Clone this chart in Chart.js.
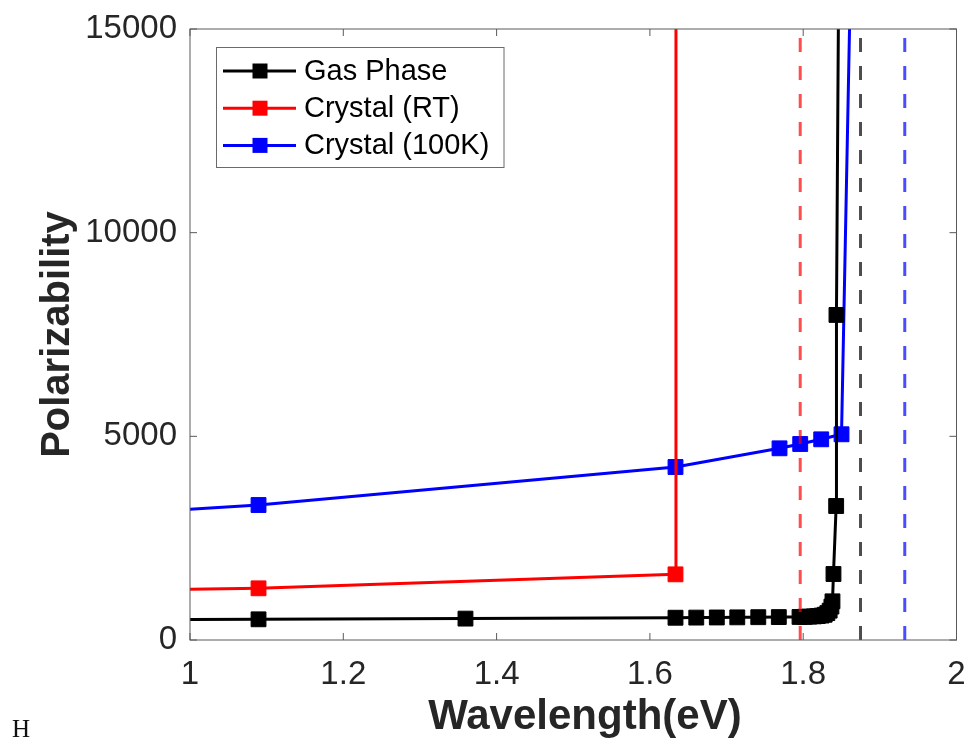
<!DOCTYPE html>
<html lang="en">
<head>
  <meta charset="UTF-8" />
  <title>Polarizability vs Wavelength</title>
  <script src="https://cdn.jsdelivr.net/npm/chart.js"></script>
  <style>
    body {
      margin: 0;
      background: #fff;
    }
    .wrap {
      position: relative;
      width: 968px;
      height: 738px;
    }
    .corner {
      position: absolute;
      left: 12px;
      top: 716px;
      font-family: 'Liberation Serif', 'DejaVu Serif', serif;
      font-size: 25px;
      line-height: 25px;
      color: #111;
    }
  </style>
</head>
<body>
  <div class="wrap">
    <canvas id="chart" width="968" height="738"></canvas>
    <div class="corner">H</div>
  </div>

  <script>
    // values
    const gasX = [0.8, 1.0894, 1.3594, 1.6334, 1.6605, 1.6873, 1.7140, 1.7414, 1.7682, 1.7952,
                  1.8020, 1.8080, 1.8140, 1.8190, 1.8240, 1.8280, 1.8315, 1.8345, 1.8368, 1.8382,
                  1.8395, 1.8430, 1.8434, 1.8462];
    const gasY = [500, 508, 525, 547, 550, 553, 556, 560, 563, 566,
                  570, 574, 580, 588, 600, 620, 660, 720, 820, 950,
                  1620, 3290, 7980, 16000];

    const rtX = [0.8, 1.0894, 1.6334, 1.6340];
    const rtY = [1196, 1269, 1612, 16000];

    const lowX = [0.8, 1.0894, 1.6334, 1.7691, 1.7961, 1.8235, 1.8500, 1.8620];
    const lowY = [2975, 3314, 4247, 4706, 4812, 4927, 5050, 16500];

    // dashed reference lines (gas, RT, 100K)
    const refX = [1.8748, 1.7961, 1.9325];
    const refColors = ['rgba(0,0,0,0.7)', 'rgba(255,0,0,0.7)', 'rgba(0,0,255,0.7)'];

    const seriesNames = ['Gas Phase', 'Crystal (RT)', 'Crystal (100K)'];
    const seriesColors = ['#000000', '#ff0000', '#0000ff'];

    const xTicks = [1, 1.2, 1.4, 1.6, 1.8, 2];
    const yTicks = [0, 5000, 10000, 15000];

    const AXIS = '#5a5a5a';
    const TEXT = '#262626';
    const SANS = "'Liberation Sans', Arial, sans-serif";

    function pts(xs, ys) {
      return xs.map((x, i) => ({ x, y: ys[i] }));
    }

    function series(i, xs, ys) {
      return {
        label: seriesNames[i],
        data: pts(xs, ys),
        borderColor: seriesColors[i],
        backgroundColor: seriesColors[i],
        borderWidth: 3,
        pointStyle: 'rect',
        pointRadius: 10.5,
        pointBorderWidth: 1,
        showLine: true,
        order: i + 1
      };
    }

    const datasets = [
      series(0, gasX, gasY),
      series(1, rtX, rtY),
      series(2, lowX, lowY)
    ];
    refX.forEach((x, i) => {
      datasets.push({
        label: 'ref' + i,
        data: [{ x, y: yTicks[0] }, { x, y: yTicks[yTicks.length - 1] }],
        borderColor: refColors[i],
        borderWidth: 3,
        borderDash: [14, 14],
        pointRadius: 0,
        showLine: true,
        order: 0
      });
    });

    // box around the axes, inward ticks and the legend
    const framePlugin = {
      id: 'frame',
      afterDatasetsDraw(chart) {
        const { ctx, chartArea: a, scales } = chart;
        ctx.save();
        ctx.strokeStyle = AXIS;
        ctx.lineWidth = 1;
        ctx.strokeRect(a.left, a.top, a.right - a.left, a.bottom - a.top);

        const len = 7;
        ctx.beginPath();
        xTicks.forEach(v => {
          const px = scales.x.getPixelForValue(v);
          ctx.moveTo(px, a.bottom); ctx.lineTo(px, a.bottom - len);
          ctx.moveTo(px, a.top); ctx.lineTo(px, a.top + len);
        });
        yTicks.forEach(v => {
          const py = scales.y.getPixelForValue(v);
          ctx.moveTo(a.left, py); ctx.lineTo(a.left + len, py);
          ctx.moveTo(a.right, py); ctx.lineTo(a.right - len, py);
        });
        ctx.stroke();

        // legend
        const lx = a.left + 26.5, ly = a.top + 18.5;
        const lw = 287.5, lh = 120;
        ctx.fillStyle = '#fff';
        ctx.fillRect(lx, ly, lw, lh);
        ctx.strokeStyle = '#6a6a6a';
        ctx.strokeRect(lx, ly, lw, lh);

        ctx.font = '29px ' + SANS;
        ctx.textBaseline = 'middle';
        ctx.textAlign = 'left';
        for (let i = 0; i < 3; i++) {
          const ds = chart.data.datasets[i];
          const cy = ly + 23.5 + i * 37.2;
          ctx.strokeStyle = ds.borderColor;
          ctx.lineWidth = 3;
          ctx.beginPath();
          ctx.moveTo(lx + 6.5, cy);
          ctx.lineTo(lx + 79.5, cy);
          ctx.stroke();
          ctx.fillStyle = ds.backgroundColor;
          ctx.fillRect(lx + 36, cy - 7.5, 15, 15);
          ctx.fillStyle = '#000';
          ctx.fillText(ds.label, lx + 87.5, cy + 1);
        }
        ctx.restore();
      }
    };

    new Chart(document.getElementById('chart'), {
      type: 'scatter',
      data: { datasets },
      options: {
        responsive: false,
        animation: false,
        layout: { padding: { left: 38, right: 11, top: 29, bottom: 0 } },
        plugins: {
          legend: { display: false },
          tooltip: { enabled: false }
        },
        scales: {
          x: {
            type: 'linear',
            min: 1,
            max: 2,
            grid: { display: false, drawTicks: false },
            border: { display: false },
            afterBuildTicks: s => { s.ticks = xTicks.map(v => ({ value: v })); },
            afterFit: s => { s.height = 98; s.paddingLeft = 0; s.paddingRight = 0; },
            ticks: {
              color: TEXT,
              padding: 15,
              maxRotation: 0,
              font: { family: SANS, size: 33 },
              callback: v => String(v)
            },
            title: {
              display: true,
              text: '  Wavelength(eV)',
              color: TEXT,
              padding: 0,
              font: { family: SANS, size: 42, weight: 'bold', lineHeight: 1 }
            }
          },
          y: {
            min: 0,
            max: 15000,
            grid: { display: false, drawTicks: false },
            border: { display: false },
            afterBuildTicks: s => { s.ticks = yTicks.map(v => ({ value: v })); },
            afterFit: s => { s.width = 152; s.paddingTop = 0; s.paddingBottom = 0; },
            ticks: {
              color: TEXT,
              padding: 13,
              font: { family: SANS, size: 33 },
              callback: v => String(v)
            },
            title: {
              display: true,
              text: 'Polarizability',
              color: TEXT,
              padding: 0,
              font: { family: SANS, size: 40, weight: 'bold', lineHeight: 1 }
            }
          }
        }
      },
      plugins: [framePlugin]
    });
  </script>
</body>
</html>
